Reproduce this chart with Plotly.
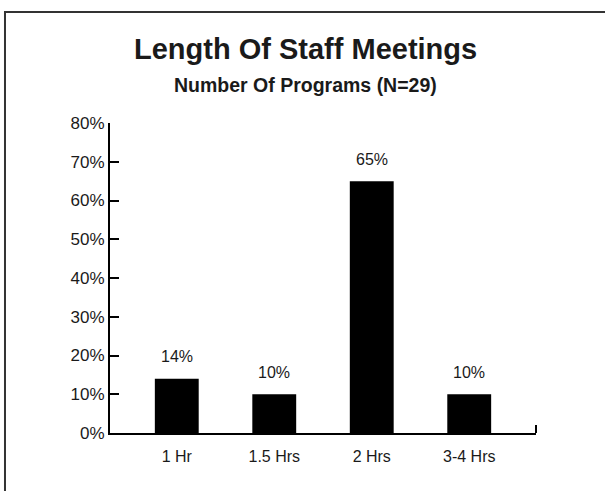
import plotly.graph_objects as go

categories = ["1 Hr", "1.5 Hrs", "2 Hrs", "3-4 Hrs"]
percents = [14, 10, 65, 10]
y_ticks = [0, 10, 20, 30, 40, 50, 60, 70, 80]

FONT = "Liberation Sans, Arial, Helvetica, sans-serif"
INK = "#1a1a1a"

fig = go.Figure()
fig.add_trace(
    go.Bar(
        x=categories,
        y=percents,
        width=0.45,
        marker=dict(color="#000000", line=dict(width=0)),
        showlegend=False,
        hoverinfo="skip",
    )
)

# value labels sit a bit above each bar
annotations = [
    dict(
        x=c, y=v, xref="x", yref="y",
        text=f"{v}%", showarrow=False, yshift=22,
        font=dict(family=FONT, size=16, color=INK),
    )
    for c, v in zip(categories, percents)
]
annotations += [
    dict(
        x=0.46, y=1.238, xref="paper", yref="paper",
        xanchor="center", yanchor="middle",
        text="<b>Length Of Staff Meetings</b>", showarrow=False,
        font=dict(family=FONT, size=29, color=INK),
    ),
    dict(
        x=0.46, y=1.124, xref="paper", yref="paper",
        xanchor="center", yanchor="middle",
        text="<b>Number Of Programs (N=29)</b>", showarrow=False,
        font=dict(family=FONT, size=19.5, color=INK),
    ),
]

fig.update_layout(
    width=605,
    height=491,
    margin=dict(l=110, r=69, t=123, b=58),
    paper_bgcolor="white",
    plot_bgcolor="white",
    font=dict(family=FONT, size=16, color=INK),
    annotations=annotations,
    shapes=[
        # outer frame, runs off the right and bottom edges
        dict(
            type="rect", xref="paper", yref="paper",
            x0=-0.2465, x1=1.3, y0=-0.3, y1=1.358,
            line=dict(color="#333333", width=2),
        ),
        # small end tick at right of x axis
        dict(
            type="line", xref="paper", yref="paper",
            x0=1, x1=1, y0=0, y1=0.026,
            line=dict(color="#000000", width=2),
        ),
    ],
    xaxis=dict(
        range=[-0.685, 3.685],
        showline=True,
        linecolor="#000000",
        linewidth=2,
        ticks="outside",
        ticklen=8,
        tickcolor="rgba(0,0,0,0)",
        showgrid=False,
        tickfont=dict(family=FONT, size=16, color=INK),
    ),
    yaxis=dict(
        range=[0, 80],
        tickvals=y_ticks,
        ticktext=[f"{t}%" for t in y_ticks],
        showline=True,
        linecolor="#000000",
        linewidth=2,
        ticks="inside",
        ticklen=9,
        tickwidth=2,
        tickcolor="#000000",
        showgrid=False,
        zeroline=False,
        tickfont=dict(family=FONT, size=17, color=INK),
    ),
)

# drop the page's default body margin so the figure sits at the window corner
fig.write_html(
    "out.html",
    config={"displayModeBar": False},
    post_script="document.body.style.margin='0';",
)
